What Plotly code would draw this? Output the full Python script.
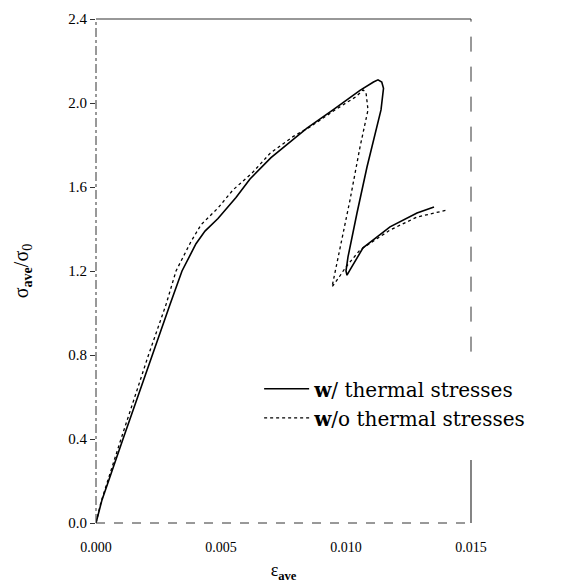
import plotly.graph_objects as go

# w/ thermal stresses (solid)
x_with = [0.0, 0.00024, 0.00108, 0.00224, 0.00296, 0.00344, 0.00400, 0.00436, 0.00488,
          0.00560, 0.00616, 0.00700, 0.00844, 0.00948, 0.01056, 0.01110, 0.01128, 0.01143,
          0.01150, 0.01140, 0.01084, 0.01044, 0.01008, 0.01000, 0.01004, 0.01016, 0.01068,
          0.01176, 0.01284, 0.01352]
y_with = [0.0, 0.11, 0.40, 0.80, 1.04, 1.20, 1.33, 1.39, 1.45,
          1.55, 1.638, 1.74, 1.88, 1.967, 2.06, 2.10, 2.11, 2.10,
          2.07, 1.967, 1.695, 1.476, 1.267, 1.20, 1.18, 1.205, 1.31,
          1.41, 1.476, 1.505]

# w/o thermal stresses (dotted)
x_without = [0.0, 0.00020, 0.00100, 0.00210, 0.00280, 0.00320, 0.00380, 0.00420, 0.00488,
             0.00548, 0.00628, 0.00696, 0.00788, 0.00856, 0.00960, 0.01040, 0.01068, 0.01080,
             0.01088, 0.01056, 0.01016, 0.00976, 0.00944, 0.00972, 0.01000, 0.01056,
             0.01176, 0.01284, 0.01404]
y_without = [0.0, 0.10, 0.40, 0.80, 1.04, 1.20, 1.34, 1.42, 1.50,
             1.586, 1.671, 1.76, 1.84, 1.886, 1.97, 2.03, 2.062, 2.05,
             1.967, 1.79, 1.538, 1.314, 1.124, 1.17, 1.22, 1.30,
             1.395, 1.457, 1.49]

legend_names = ["<b>w</b>/ thermal stresses", "<b>w</b>/o thermal stresses"]
x_ticks = [0.0, 0.005, 0.010, 0.015]
x_ticklabels = ["0.000", "0.005", "0.010", "0.015"]
y_ticks = [0.0, 0.4, 0.8, 1.2, 1.6, 2.0, 2.4]

fig = go.Figure()
fig.add_trace(go.Scatter(x=x_with, y=y_with, mode="lines", name=legend_names[0],
                         line=dict(color="black", width=1.6)))
fig.add_trace(go.Scatter(x=x_without, y=y_without, mode="lines", name=legend_names[1],
                         line=dict(color="black", width=1.3, dash="dot")))

frame = "#333333"
# frame: top solid, others broken (scanned look); right side interrupted by legend
fig.add_shape(type="line", xref="x domain", yref="y domain", x0=0, x1=1, y0=1, y1=1,
              line=dict(color=frame, width=1.2))
fig.add_shape(type="line", xref="x domain", yref="y domain", x0=0, x1=0, y0=0, y1=1,
              line=dict(color=frame, width=1, dash="dashdot"))
fig.add_shape(type="line", xref="x domain", yref="y domain", x0=0, x1=1, y0=0, y1=0,
              line=dict(color=frame, width=1, dash="dash"))
fig.add_shape(type="line", xref="x domain", yref="y domain", x0=1, x1=1, y0=0.34, y1=1,
              line=dict(color=frame, width=1, dash="longdash"))
fig.add_shape(type="line", xref="x domain", yref="y domain", x0=1, x1=1, y0=0, y1=0.125,
              line=dict(color=frame, width=1.2))

fig.update_layout(
    width=569, height=583,
    margin=dict(l=96, r=98, t=19, b=60, autoexpand=False),
    paper_bgcolor="white", plot_bgcolor="white",
    font=dict(family="Liberation Serif", color="black", size=14),
    showlegend=True,
    legend=dict(x=0.435, y=0.305, xanchor="left", yanchor="top",
                bgcolor="rgba(0,0,0,0)", borderwidth=0,
                font=dict(family="DejaVu Serif", size=20, color="black"),
                tracegroupgap=0, itemwidth=45),
    xaxis=dict(range=[0, 0.015], tickvals=x_ticks, ticktext=x_ticklabels,
               showgrid=False, zeroline=False, showline=False, ticks="",
               ticklabelstandoff=14, automargin=False,
               tickfont=dict(size=14), title=dict(text="ε<sub><b>ave</b></sub>",
               font=dict(size=18), standoff=10)),
    yaxis=dict(range=[0, 2.4], tickvals=y_ticks, tickformat=".1f",
               showgrid=False, zeroline=False, showline=False, automargin=False,
               ticks="outside", ticklen=5, tickcolor=frame,
               tickfont=dict(size=15),
               title=dict(text="σ<sub><b>ave</b></sub>/σ<sub>0</sub>",
                          font=dict(size=20), standoff=34)),
)

fig.write_html("out.html")
